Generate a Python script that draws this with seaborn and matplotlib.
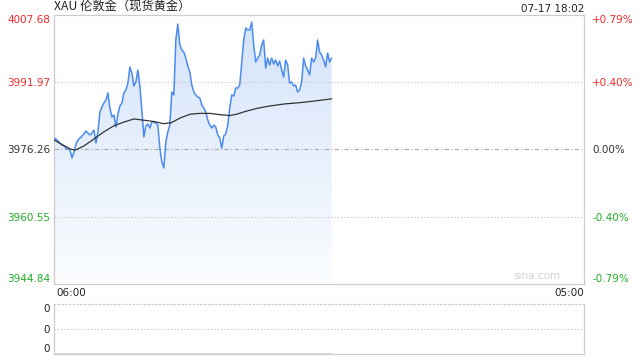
import numpy as np
import pandas as pd
import matplotlib
matplotlib.use("Agg")
import matplotlib.pyplot as plt
import matplotlib.dates as mdates
import seaborn as sns
from matplotlib.colors import LinearSegmentedColormap

sns.set_theme(style="white")
plt.rcParams['font.family'] = ['Noto Sans CJK SC', 'DejaVu Sans']

# ---- data ----
title = "XAU 伦敦金（现货黄金）"
stamp = "07-17 18:02"
session_start = "2025-07-17 06:00"
session_end = "2025-07-18 05:00"
sample_seconds = 312  # price sampled every 5.2 minutes
price = [3978.95, 3978.71, 3978.24, 3977.78, 3977.31, 3977.08, 3976.61, 3976.38, 3976.14, 3974.27,
         3975.67, 3977.54, 3978.48, 3978.95, 3979.41, 3979.88, 3980.58, 3980.11, 3979.65, 3980.11,
         3980.81, 3977.78, 3980.35, 3985.02, 3986.19, 3987.12, 3987.82, 3989.46, 3985.95, 3983.85,
         3984.32, 3981.52, 3984.55, 3986.42, 3987.12, 3989.46, 3990.16, 3991.79, 3995.53, 3994.13,
         3991.09, 3992.03, 3994.83, 3991.09, 3985.49, 3979.18, 3981.75, 3982.22, 3981.28, 3982.68,
         3982.68, 3982.45, 3981.98, 3976.61, 3973.34, 3971.94, 3978.01, 3980.35, 3981.98, 3989.69,
         3988.99, 4001.84, 4005.58, 4000.67, 3999.50, 3999.04, 3997.63, 3995.77, 3994.36, 3991.33,
         3989.69, 3988.99, 3988.52, 3988.29, 3986.65, 3985.95, 3985.02, 3983.15, 3981.98, 3981.28,
         3981.98, 3981.52, 3979.65, 3978.95, 3976.61, 3979.41, 3979.88, 3981.98, 3985.95, 3988.99,
         3988.76, 3990.63, 3990.63, 3991.33, 3996.70, 4001.84, 4004.64, 4004.18, 4004.18, 4006.04,
         4000.67, 3996.70, 3997.63, 3998.34, 4000.67, 4001.84, 3995.30, 3997.63, 3996.00, 3997.63,
         3996.23, 3997.17, 3995.77, 3996.93, 3994.83, 3993.19, 3997.17, 3996.00, 3991.79, 3992.03,
         3991.09, 3991.33, 3989.69, 3990.16, 3992.03, 3997.63, 3995.77, 3994.83, 3993.66, 3997.63,
         3996.70, 3997.63, 4001.84, 3999.04, 3998.34, 3997.17, 3995.53, 3998.80, 3996.70, 3997.63]
avg_minutes = [0, 21, 42, 55, 78, 104, 130, 156, 180, 208, 234, 260, 285, 305, 328, 354,
               380, 406, 432, 458, 475, 500, 530, 560, 600, 640, 680, 723]
avg_price = [3978.50, 3977.40, 3976.40, 3976.10, 3977.10, 3978.70, 3980.40, 3981.80,
             3982.60, 3983.40, 3983.10, 3982.80, 3982.30, 3982.50, 3983.60, 3984.50,
             3984.70, 3984.70, 3984.40, 3984.20, 3984.50, 3985.20, 3985.90, 3986.40,
             3986.90, 3987.20, 3987.60, 3988.10]
prev_close = 3976.26
left_ticks = [4007.68, 3991.97, 3976.26, 3960.55, 3944.84]
right_labels = ["+0.79%", "+0.40%", "0.00%", "-0.40%", "-0.79%"]
x_labels = ["06:00", "05:00"]
vol_labels = ["0", "0", "0"]
vol = [0] * len(price)

RED = "#f0282a"
GREEN = "#1fae28"
BLUE = "#4b8bf0"

times = pd.date_range(session_start, periods=len(price), freq=f"{sample_seconds}s")
t0, t1 = pd.Timestamp(session_start), pd.Timestamp(session_end)
df = pd.DataFrame({"t": times, "p": price})
da = pd.DataFrame({"t": t0 + pd.to_timedelta(avg_minutes, unit="min"), "p": avg_price})

fig = plt.figure(figsize=(6.4, 3.6), dpi=100)
W, H = 640, 360
def pax(x0, y0, x1, y1):
    return fig.add_axes([x0 / W, 1 - y1 / H, (x1 - x0) / W, (y1 - y0) / H])

ax = pax(54, 15, 584, 284)
ymin, ymax = left_ticks[-1], left_ticks[0]

# gradient fill under price
poly = ax.fill_between(df["t"], df["p"], ymin, color="none", lw=0)
cmap = LinearSegmentedColormap.from_list("g", ["#fbfdff", "#d3e2f9"])
grad = np.linspace(0, 1, 256).reshape(-1, 1)
im = ax.imshow(grad, cmap=cmap, aspect="auto", origin="lower",
               extent=[mdates.date2num(t0), mdates.date2num(times[-1]), ymin, ymax], zorder=1)
im.set_clip_path(poly.get_paths()[0], transform=ax.transData)

# grid lines
for v in [left_ticks[1], left_ticks[3]]:
    ax.axhline(v, color="#c4c4c4", lw=0.8, ls=(0, (1, 2)), zorder=2)
ax.axhline(prev_close, color="#aaaaaa", lw=0.8, ls=(0, (4, 2, 1, 2)), zorder=2)

sns.lineplot(data=df, x="t", y="p", ax=ax, color=BLUE, lw=1.1, zorder=3)
sns.lineplot(data=da, x="t", y="p", ax=ax, color="#333333", lw=0.9, zorder=4)
ax.set_xlim(t0, t1)
ax.set_ylim(ymin, ymax)

for s in ax.spines.values():
    s.set_color("#cccccc")
    s.set_linewidth(0.9)

ax.set_xlabel("")
ax.set_ylabel("")
ax.set_xticks([])
ax.tick_params(axis="y", length=0, pad=3, labelsize=7.5)
ax.set_yticks(left_ticks)
ax.set_yticklabels([f"{v:.2f}" for v in left_ticks])
lcols = [RED, RED, "#333333", GREEN, GREEN]
for i, tl in enumerate(ax.get_yticklabels()):
    tl.set_color(lcols[i])
    tl.set_fontfamily("DejaVu Sans")
    if i == 0:
        tl.set_va("top")
    elif i == len(left_ticks) - 1:
        tl.set_va("bottom")

ax2 = ax.twinx()
ax2.set_ylim(ymin, ymax)
ax2.set_yticks(left_ticks)
ax2.set_yticklabels(right_labels)
ax2.tick_params(axis="y", length=0, pad=6, labelsize=7.5)
for i, tl in enumerate(ax2.get_yticklabels()):
    tl.set_color(lcols[i])
    tl.set_fontfamily("DejaVu Sans")
    if i == 0:
        tl.set_va("top")
    elif i == len(left_ticks) - 1:
        tl.set_va("bottom")
for s in ax2.spines.values():
    s.set_visible(False)
ax2.grid(False)

ax.text(0, 1.005, title, transform=ax.transAxes, ha="left", va="bottom",
        fontsize=8.8, color="#222222")
ax.text(1, 1.005, stamp, transform=ax.transAxes, ha="right", va="bottom",
        fontsize=7.5, color="#222222", family="DejaVu Sans")
ax.text(0.955, 0.01, "sina.com", transform=ax.transAxes, ha="right", va="bottom",
        fontsize=7.5, color="#cfcfcf", family="DejaVu Sans")
ax.text(0.004, -0.015, x_labels[0], transform=ax.transAxes, ha="left", va="top",
        fontsize=7.5, color="#222222", family="DejaVu Sans")
ax.text(1, -0.015, x_labels[1], transform=ax.transAxes, ha="right", va="top",
        fontsize=7.5, color="#222222", family="DejaVu Sans")

# volume panel
bx = pax(54, 304, 584, 354)
dv = pd.DataFrame({"t": times, "v": vol})
sns.lineplot(data=dv, x="t", y="v", ax=bx, color="#555555", lw=1.0)
bx.set_xlim(t0, t1)
bx.set_ylim(0, 1)
bx.axhline(0.5, color="#c4c4c4", lw=0.8, ls=(0, (1, 2)))
bx.set_xticks([])
bx.set_yticks([1, 0.5, 0])
bx.set_yticklabels(vol_labels)
bx.tick_params(axis="y", length=0, pad=3, labelsize=7.5)
for i, tl in enumerate(bx.get_yticklabels()):
    tl.set_color("#222222")
    tl.set_fontfamily("DejaVu Sans")
    if i == 0:
        tl.set_va("top")
    elif i == 2:
        tl.set_va("bottom")
bx.set_xlabel("")
bx.set_ylabel("")
for k, s in bx.spines.items():
    s.set_color("#cccccc")
    s.set_linewidth(0.9)
bx.spines["top"].set_linestyle((0, (1, 2)))

fig.savefig("out.png", dpi=100)
